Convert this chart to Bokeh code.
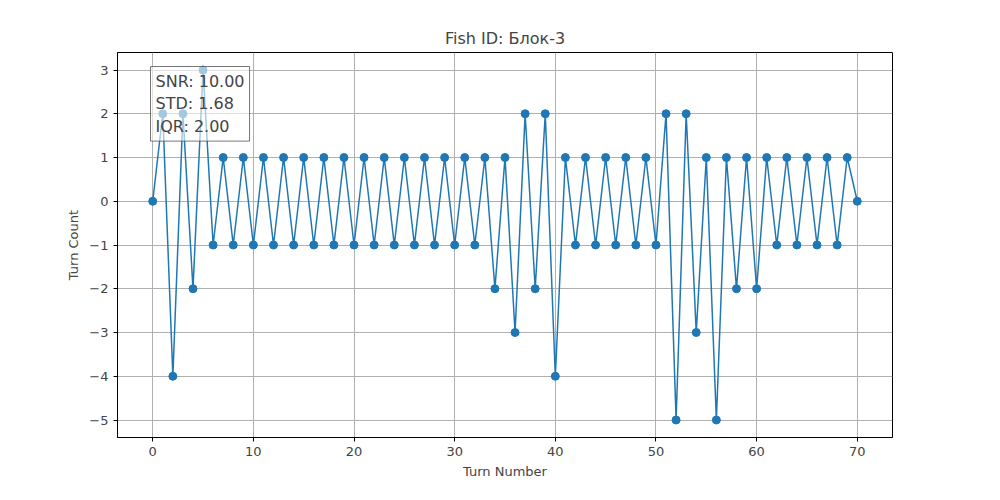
from bokeh.plotting import figure
from bokeh.models import Label, Range1d, FixedTicker
from bokeh.embed import file_html
from bokeh.resources import INLINE

turn_number = list(range(71))
turn_count = [0, 2, -4, 2, -2, 3, -1, 1, -1, 1, -1, 1, -1, 1, -1, 1, -1, 1, -1, 1,
              -1, 1, -1, 1, -1, 1, -1, 1, -1, 1, -1, 1, -1, 1, -2, 1, -3, 2, -2, 2,
              -4, 1, -1, 1, -1, 1, -1, 1, -1, 1, -1, 2, -5, 2, -3, 1, -5, 1, -2, 1,
              -2, 1, -1, 1, -1, 1, -1, 1, -1, 1, 0]
x_ticks = [0, 10, 20, 30, 40, 50, 60, 70]
y_ticks = [-5, -4, -3, -2, -1, 0, 1, 2, 3]
stats_text = "SNR: 10.00\nSTD: 1.68\nIQR: 2.00"

FONT = "DejaVu Sans"
BLUE = "#1f77b4"

p = figure(width=984, height=484, output_backend="svg", toolbar_location=None,
           x_range=Range1d(-3.5, 73.5), y_range=Range1d(-5.4, 3.4),
           title="Fish ID: Блок-3", x_axis_label="Turn Number", y_axis_label="Turn Count",
           min_border_left=117, min_border_right=92, min_border_top=52, min_border_bottom=47)
p.title.align = "center"
p.title.text_font = FONT
p.title.text_font_style = "normal"
p.title.text_font_size = "16px"

for ax in (p.xaxis[0], p.yaxis[0]):
    ax.axis_label_text_font = FONT
    ax.axis_label_text_font_style = "normal"
    ax.axis_label_text_font_size = "13px"
    ax.major_label_text_font = FONT
    ax.major_label_text_font_size = "13px"
    ax.minor_tick_line_color = None
    ax.major_tick_out = 4
    ax.major_tick_in = 0
    ax.axis_line_color = "black"

p.xaxis.ticker = FixedTicker(ticks=x_ticks)
p.yaxis.ticker = FixedTicker(ticks=y_ticks)
p.yaxis.major_label_overrides = {t: str(t).replace("-", "−") for t in y_ticks}

p.outline_line_color = "black"
p.grid.grid_line_color = "#b0b0b0"
p.grid.grid_line_width = 1

p.line(turn_number, turn_count, line_color=BLUE, line_width=1.5)
p.scatter(turn_number, turn_count, size=8, fill_color=BLUE, line_color=BLUE)

label = Label(x=33, y=371, x_units="screen", y_units="screen", text=stats_text,
              text_font=FONT, text_font_size="16px", text_baseline="top",
              background_fill_color="white", background_fill_alpha=0.6,
              border_line_color="#555555", border_line_alpha=0.8, padding=5)
p.add_layout(label)

open("out.html", "w").write(file_html(p, INLINE))
